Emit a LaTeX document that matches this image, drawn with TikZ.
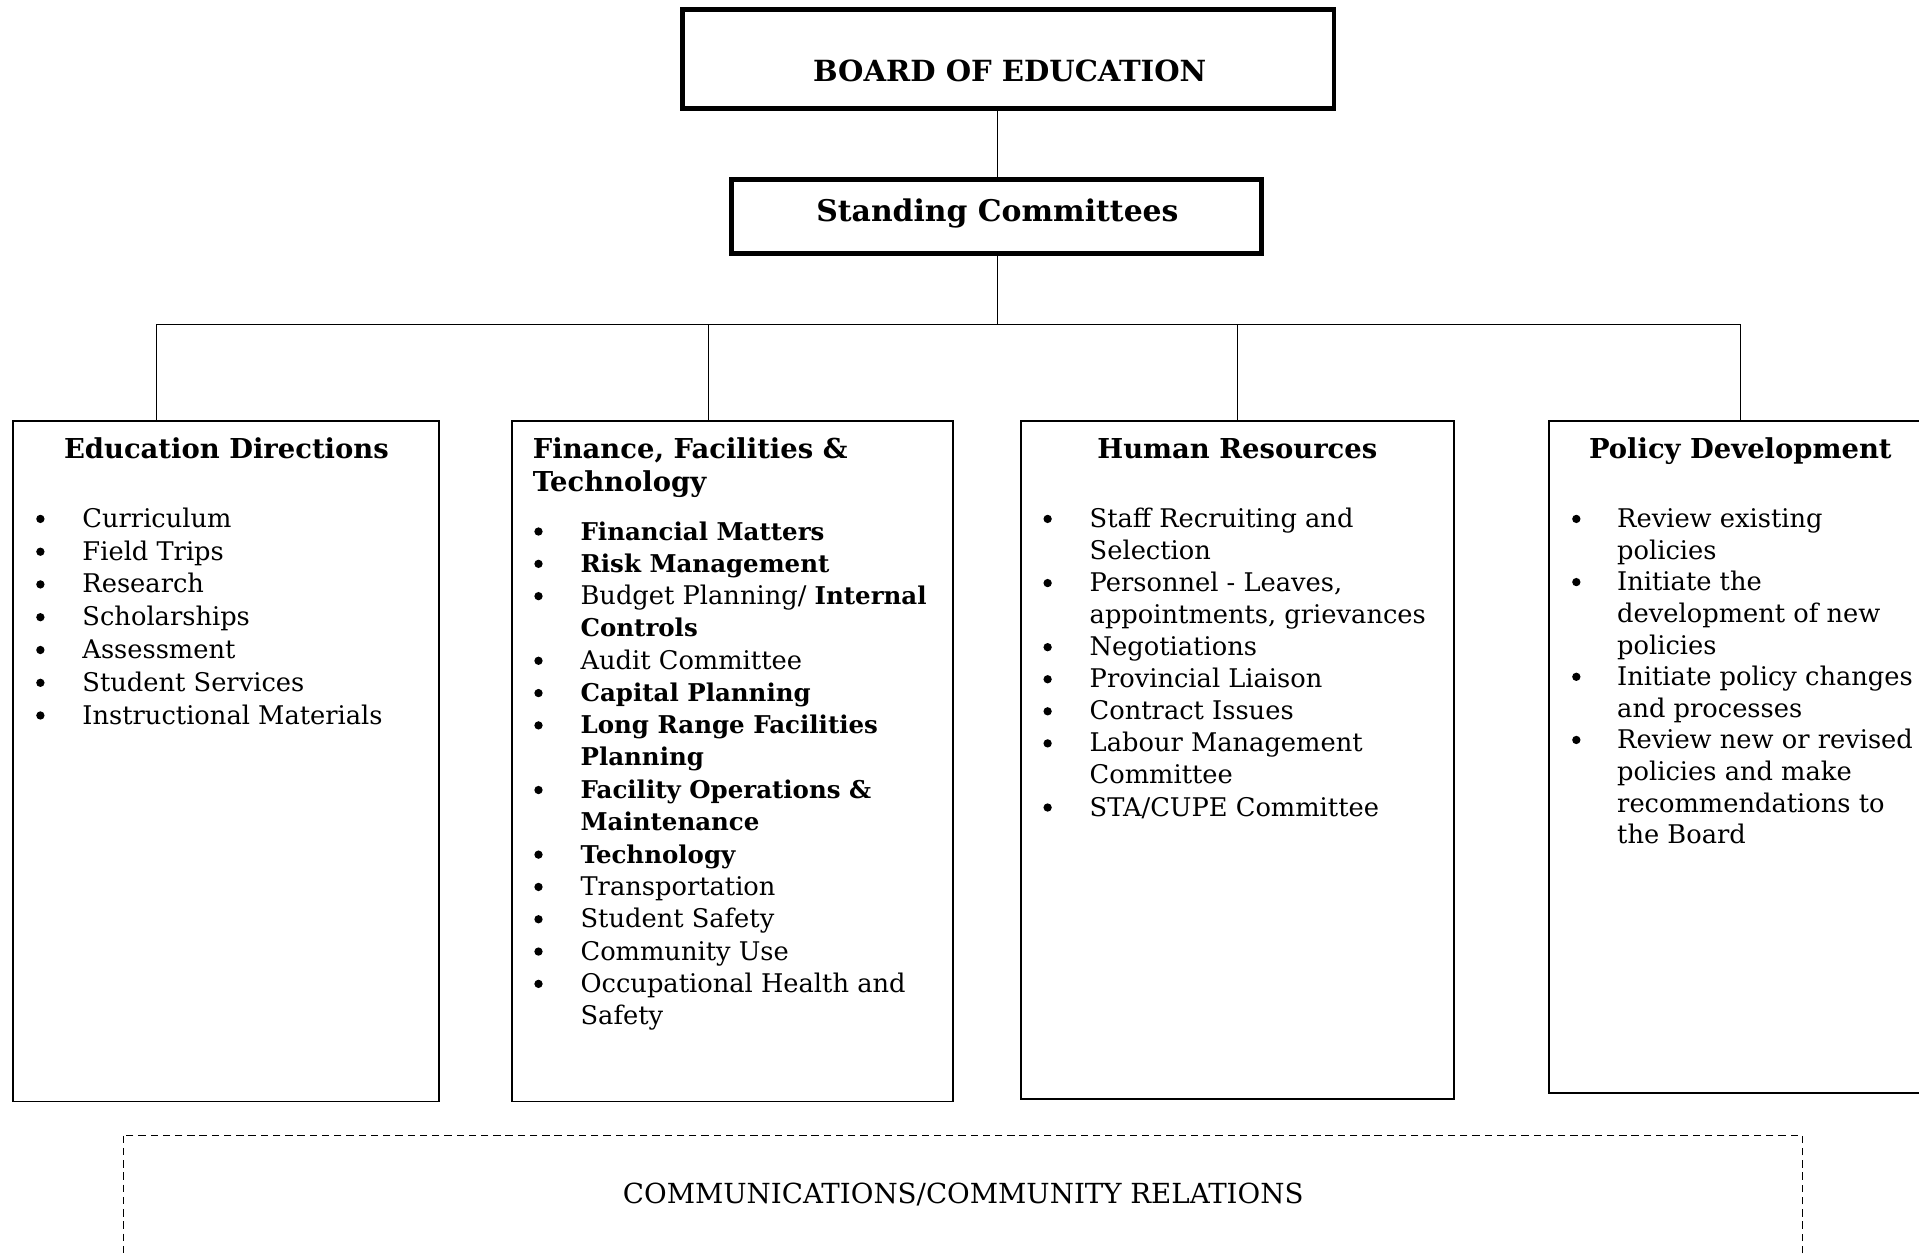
\documentclass[tikz,border=0pt]{standalone}
\usepackage{fontspec}
\setmainfont{DejaVu Serif}
\newcommand\bodyf{\fontsize{10.5}{13}\selectfont}
\newcommand\headf{\fontsize{11.2}{13.4}\selectfont\bfseries}
\newcommand\bb[1]{{\fontsize{10}{13}\selectfont\bfseries #1}}
\newcommand\Itm[5]{%
  \node[bul] (#1b) at (#2,#4-7) {};
  \node[itm] (#1) at (#3,#4) {\parbox[t]{220pt}{\raggedright #5}};}
\begin{document}
\begin{tikzpicture}[x=0.5pt,y=-0.5pt,
  topbox/.style={draw,line width=2pt,inner sep=0pt},
  combox/.style={draw,line width=0.8pt},
  conn/.style={line width=0.6pt},
  bul/.style={circle,fill,inner sep=0pt,minimum size=3.4pt},
  itm/.style={anchor=base west,inner sep=0pt,font=\bodyf},
  head/.style={anchor=base,inner sep=0pt,font=\headf},
  commbox/.style={draw,line width=0.6pt,dash pattern=on 3pt off 2pt}]
\useasboundingbox (0,0) rectangle (1568,1024);
\clip (0,0) rectangle (1568,1024);
% top boxes
\node[topbox,minimum width=266pt,minimum height=40.5pt] (board) at (824,48.5) {};
\node[anchor=base,inner sep=0pt,font=\fontsize{11.9}{14}\selectfont\bfseries] (boardt) at (825,66.7) {BOARD OF EDUCATION};
\node[topbox,minimum width=216.5pt,minimum height=30pt] (stand) at (814.5,177) {};
\node[anchor=base,inner sep=0pt,font=\fontsize{12.2}{14}\selectfont\bfseries] (standt) at (815,181) {Standing Committees};
\coordinate (bb) at (815,89);
\coordinate (st) at (815,147);
\coordinate (sb) at (815,207);
\coordinate (hub) at (815,265);
\draw[conn] (bb) -- (st);
\draw[conn] (sb) -- (hub);
\coordinate (h1) at (128,265);
\coordinate (h2) at (579,265);
\coordinate (h3) at (1011,265);
\coordinate (h4) at (1422,265);
\draw[conn] (h1) -- (h4);
% committee boxes
\draw[combox] (11,344) rectangle (359,900);
\draw[combox] (418,344) rectangle (779,900);
\draw[combox] (834,344) rectangle (1188,898);
\draw[combox] (1266,344) rectangle (1579,893);
\coordinate (c1) at (128,344);
\coordinate (c2) at (579,344);
\coordinate (c3) at (1011,344);
\coordinate (c4) at (1422,344);
\draw[conn] (h1) -- (c1);
\draw[conn] (h2) -- (c2);
\draw[conn] (h3) -- (c3);
\draw[conn] (h4) -- (c4);
% headings
\node[head] (edh) at (185,375) {Education Directions};
\node[head,anchor=base west] (ffh) at (435,375) {\parbox[t]{200pt}{\raggedright Finance, Facilities \&\\Technology}};
\node[head] (hrh) at (1011,375) {Human Resources};
\node[head] (pdh) at (1422,375) {Policy Development};
% Education Directions
\Itm{e1}{33}{67}{431}{Curriculum}
\Itm{e2}{33}{67}{457.8}{Field Trips}
\Itm{e3}{33}{67}{484.5}{Research}
\Itm{e4}{33}{67}{511.3}{Scholarships}
\Itm{e5}{33}{67}{538.1}{Assessment}
\Itm{e6}{33}{67}{564.9}{Student Services}
\Itm{e7}{33}{67}{591.6}{Instructional Materials}
% Finance
\Itm{f1}{440}{474}{441.3}{\bb{Financial Matters}}
\Itm{f2}{440}{474}{467.7}{\bb{Risk Management}}
\Itm{f3}{440}{474}{494.1}{Budget Planning/ \bb{Internal}\\\bb{Controls}}
\Itm{f4}{440}{474}{546.9}{Audit Committee}
\Itm{f5}{440}{474}{573.3}{\bb{Capital Planning}}
\Itm{f6}{440}{474}{599.7}{\bb{Long Range Facilities}\\\bb{Planning}}
\Itm{f7}{440}{474}{652.5}{\bb{Facility Operations \&}\\\bb{Maintenance}}
\Itm{f8}{440}{474}{705.3}{\bb{Technology}}
\Itm{f9}{440}{474}{731.7}{Transportation}
\Itm{f10}{440}{474}{758.1}{Student Safety}
\Itm{f11}{440}{474}{784.5}{Community Use}
\Itm{f12}{440}{474}{810.9}{Occupational Health and\\Safety}
% Human Resources
\Itm{r1}{856}{890}{431}{Staff Recruiting and\\Selection}
\Itm{r2}{856}{890}{483.4}{Personnel - Leaves,\\appointments, grievances}
\Itm{r3}{856}{890}{535.8}{Negotiations}
\Itm{r4}{856}{890}{562}{Provincial Liaison}
\Itm{r5}{856}{890}{588.2}{Contract Issues}
\Itm{r6}{856}{890}{614.4}{Labour Management\\Committee}
\Itm{r7}{856}{890}{666.8}{STA/CUPE Committee}
% Policy Development
\Itm{p1}{1288}{1321}{431}{Review existing\\policies}
\Itm{p2}{1288}{1321}{482.6}{Initiate the\\development of new\\policies}
\Itm{p3}{1288}{1321}{560}{Initiate policy changes\\and processes}
\Itm{p4}{1288}{1321}{611.6}{Review new or revised\\policies and make\\recommendations to\\the Board}
% communications
\draw[commbox] (101,928) rectangle (1473,1060);
\node[anchor=base,inner sep=0pt,font=\fontsize{11.3}{13}\selectfont] (comm) at (787,983) {COMMUNICATIONS/COMMUNITY RELATIONS};
\end{tikzpicture}
\end{document}
